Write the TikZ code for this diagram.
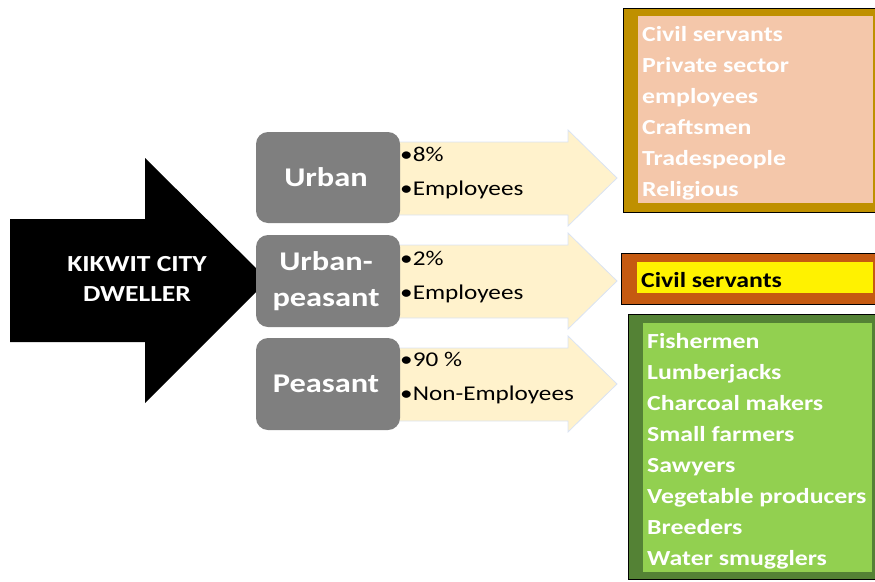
\documentclass[tikz,border=0pt]{standalone}
\usepackage{fontspec}
\setmainfont[FakeStretch=1.2]{Carlito}
\definecolor{lightarr}{RGB}{255,242,204}
\definecolor{lightedge}{RGB}{218,227,243}
\definecolor{graybox}{RGB}{127,127,127}
\definecolor{goldout}{RGB}{191,144,0}
\definecolor{pinkin}{RGB}{244,199,170}
\definecolor{orangeout}{RGB}{197,90,17}
\definecolor{greenout}{RGB}{84,130,53}
\definecolor{greenin}{RGB}{146,208,80}
\tikzset{
  catbox/.style={draw=none, fill=graybox, rounded corners=12pt},
  cattext/.style={text=white, font=\fontsize{27}{36}\selectfont\bfseries, align=center, inner sep=0pt},
  bultext/.style={text=black, font=\fontsize{21}{34}\selectfont, align=left, inner sep=0pt, anchor=north west},
  listtext/.style={text=white, font=\fontsize{21.5}{31}\selectfont\bfseries, align=left, inner sep=0pt, anchor=north west},
  lightarrow/.style={fill=lightarr, draw=lightedge, line width=0.8pt},
}
\begin{document}
\begin{tikzpicture}[x=1pt,y=-1pt]
\useasboundingbox (0,0) rectangle (875,581);
% big black arrow
\fill[black] (10,219) -- (145,219) -- (145,158) -- (268,280) -- (145,403) -- (145,342) -- (10,342) -- cycle;
\node[text=white, font=\fontsize{23}{30}\selectfont\bfseries, align=center, inner sep=0pt, anchor=north] (dweller) at (137,256) {KIKWIT CITY\\DWELLER};
% light arrows
\foreach \dy in {0,103,206}{
  \draw[lightarrow] (380,142+\dy) -- (568,142+\dy) -- (568,130+\dy) -- (617,178+\dy) -- (568,226+\dy) -- (568,215+\dy) -- (380,215+\dy) -- cycle;
}
% gray boxes
\fill[catbox] (256,132) rectangle (400,223);
\fill[catbox] (256,235) rectangle (400,327);
\fill[catbox] (256,338) rectangle (400,430);
\node[cattext] (urban) at (326,177) {Urban};
\node[cattext] (urbpeas) at (326,281) {Urban-\\peasant};
\node[cattext] (peasant) at (326,384) {Peasant};
% bullet texts
\node[bultext] (b1) at (400,147) {•8\%\\•Employees};
\node[bultext] (b2) at (400,251) {•2\%\\•Employees};
\node[bultext] (b3) at (400,352) {•90 \%\\•Non-Employees};
% top right box
\filldraw[fill=goldout, draw=black, line width=0.6pt] (623,8) rectangle (878,212);
\fill[pinkin] (638,16) rectangle (873,203);
\node[listtext] (list1) at (642,26) {Civil servants\\Private sector\\employees\\Craftsmen\\Tradespeople\\Religious};
% middle right box
\filldraw[fill=orangeout, draw=black, line width=0.6pt] (621,253) rectangle (878,304);
\fill[yellow] (637,262) rectangle (873,293);
\node[listtext, text=black] (list2) at (641,272) {Civil servants};
% bottom right box
\filldraw[fill=greenout, draw=black, line width=0.6pt] (628,314) rectangle (878,579);
\fill[greenin] (643,323) rectangle (872,572);
\node[listtext] (list3) at (647,333) {Fishermen\\Lumberjacks\\Charcoal makers\\Small farmers\\Sawyers\\Vegetable producers\\Breeders\\Water smugglers};
\end{tikzpicture}
\end{document}
